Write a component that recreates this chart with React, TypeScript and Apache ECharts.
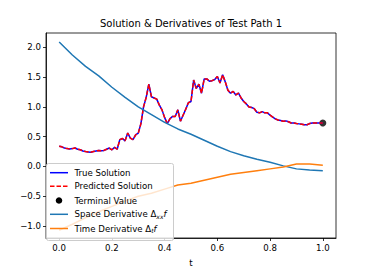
import React, { useEffect, useRef } from "react";
import * as echarts from "echarts";

const TITLE = "Solution & Derivatives of Test Path 1";
const X_TICKS = [0, 0.2, 0.4, 0.6, 0.8, 1.0];
const Y_TICKS = [-1.0, -0.5, 0.0, 0.5, 1.0, 1.5, 2.0];

// solution sampled every 0.01 in t
const T_SOL = Array.from({ length: 101 }, (_, i) => i / 100);
const TRUE_SOL = [
  0.34, 0.33, 0.31, 0.30, 0.295, 0.30, 0.31, 0.29, 0.28, 0.26,
  0.25, 0.245, 0.24, 0.25, 0.26, 0.27, 0.265, 0.27, 0.29, 0.31,
  0.28, 0.32, 0.29, 0.45, 0.47, 0.43, 0.56, 0.475, 0.45, 0.53,
  0.56, 0.72, 1.00, 1.16, 1.38, 1.17, 1.15, 1.13, 1.03, 0.95,
  0.82, 0.72, 0.80, 0.84, 0.84, 0.95, 0.76, 0.86, 0.96, 1.07,
  1.09, 1.45, 1.31, 1.38, 1.23, 1.47, 1.47, 1.43, 1.44, 1.46,
  1.51, 1.40, 1.54, 1.42, 1.28, 1.23, 1.26, 1.20, 1.23, 1.15,
  1.09, 1.05, 1.00, 0.99, 0.97, 0.91, 0.90, 0.92, 0.90, 0.90,
  0.86, 0.83, 0.80, 0.78, 0.77, 0.76, 0.765, 0.75, 0.73, 0.73,
  0.72, 0.715, 0.71, 0.70, 0.70, 0.72, 0.73, 0.73, 0.73, 0.73,
  0.73,
];
const PRED_SOL = TRUE_SOL;
const TERMINAL = [1.0, 0.73];

// derivatives sampled every 0.05 in t
const T_DER = [0, 0.05, 0.1, 0.15, 0.2, 0.25, 0.3, 0.35, 0.4, 0.45, 0.5, 0.55, 0.6, 0.65, 0.7, 0.75, 0.8, 0.85, 0.9, 0.95, 1.0];
const SPACE_DER = [2.09, 1.87, 1.68, 1.52, 1.33, 1.16, 1.0, 0.87, 0.74, 0.63, 0.54, 0.44, 0.34, 0.25, 0.18, 0.12, 0.07, 0.01, -0.04, -0.06, -0.07];
const TIME_DER = [-1.07, -0.97, -0.86, -0.76, -0.67, -0.58, -0.5, -0.45, -0.38, -0.31, -0.28, -0.23, -0.18, -0.13, -0.1, -0.07, -0.04, -0.01, 0.04, 0.04, 0.02];

const FONT = "DejaVu Sans";
const FS = 8.6;
const fmt = (v: number) => (v < 0 ? "\u2212" + Math.abs(v).toFixed(1) : v.toFixed(1));

export default function App() {
  const ref = useRef<HTMLDivElement>(null);
  useEffect(() => {
    document.body.style.margin = "0";
    const chart = echarts.init(ref.current!, null, { renderer: "svg" });
    const legendRows = [
      { y: 172.7, kind: "line", color: "#0000ff", dash: null, text: "{n|True Solution}" },
      { y: 186.3, kind: "line", color: "#ff0000", dash: [4.5, 2], text: "{n|Predicted Solution}" },
      { y: 200.5, kind: "dot", color: "#000", dash: null, text: "{n|Terminal Value}" },
      { y: 214.3, kind: "line", color: "#1f77b4", dash: null, text: "{n|Space Derivative Δ}{s|xx}{i|f}" },
      { y: 228.5, kind: "line", color: "#ff7f0e", dash: null, text: "{n|Time Derivative Δ}{s|t}{i|f}" },
    ];
    const graphics: any[] = [
      {
        type: "rect",
        z: 100,
        shape: { x: 46.5, y: 163.5, width: 127, height: 77, r: 2 },
        style: { fill: "rgba(255,255,255,0.8)", stroke: "#cccccc", lineWidth: 1 },
      },
    ];
    legendRows.forEach((r) => {
      if (r.kind === "line") {
        graphics.push({
          type: "line",
          z: 101,
          shape: { x1: 50, y1: r.y, x2: 68, y2: r.y },
          style: { stroke: r.color, lineWidth: 1.5, lineDash: r.dash || undefined },
        });
      } else {
        graphics.push({
          type: "circle",
          z: 101,
          shape: { cx: 59, cy: r.y, r: 3.3 },
          style: { fill: r.color },
        });
      }
      graphics.push({
        type: "text",
        z: 101,
        x: 74.5,
        y: r.y,
        style: {
          text: r.text,
          verticalAlign: "middle",
          fill: "#000",
          rich: {
            n: { fontFamily: FONT, fontSize: FS, fill: "#000", lineHeight: 10 } as any,
            s: { fontFamily: FONT, fontSize: 6, fontStyle: "italic", fill: "#000", padding: [4, 0, 0, 0], lineHeight: 10 } as any,
            i: { fontFamily: FONT, fontSize: FS, fontStyle: "italic", fill: "#000", lineHeight: 10 } as any,
          },
        },
      });
    });

    const lineBase = { type: "line", showSymbol: false, symbol: "none", silent: true };
    chart.setOption({
      animation: false,
      title: {
        text: TITLE,
        left: 191,
        top: 18,
        textAlign: "center",
        padding: 0,
        textStyle: { fontFamily: FONT, fontSize: 10, fontWeight: "normal", color: "#000" },
      },
      grid: { left: 46, right: 38, top: 33, bottom: 35, show: true, borderColor: "#000", borderWidth: 0.8, backgroundColor: "#fff" },
      xAxis: {
        type: "value",
        min: -0.05,
        max: 1.05,
        name: "t",
        nameLocation: "middle",
        nameGap: 20,
        nameTextStyle: { fontFamily: FONT, fontSize: FS, color: "#000" },
        axisLine: { show: true, onZero: false, lineStyle: { color: "#000", width: 0.8 } },
        axisTick: { show: true, length: 3, customValues: X_TICKS, lineStyle: { color: "#000", width: 0.8 } },
        axisLabel: { customValues: X_TICKS, formatter: fmt, margin: 5, fontFamily: FONT, fontSize: FS, color: "#000" },
        splitLine: { show: false },
      },
      yAxis: {
        type: "value",
        min: -1.2,
        max: 2.24,
        axisLine: { show: true, onZero: false, lineStyle: { color: "#000", width: 0.8 } },
        axisTick: { show: true, length: 3, customValues: Y_TICKS, lineStyle: { color: "#000", width: 0.8 } },
        axisLabel: { customValues: Y_TICKS, formatter: fmt, margin: 5, fontFamily: FONT, fontSize: FS, color: "#000" },
        splitLine: { show: false },
      },
      series: [
        { ...lineBase, name: "True Solution", data: T_SOL.map((t, i) => [t, TRUE_SOL[i]]), lineStyle: { color: "#0000ff", width: 1.5 } },
        { ...lineBase, name: "Predicted Solution", data: T_SOL.map((t, i) => [t, PRED_SOL[i]]), lineStyle: { color: "#ff0000", width: 1.5, type: [4.5, 2] } },
        { type: "scatter", name: "Terminal Value", data: [TERMINAL], symbolSize: 7, itemStyle: { color: "#000" }, silent: true },
        { ...lineBase, name: "Space Derivative", data: T_DER.map((t, i) => [t, SPACE_DER[i]]), lineStyle: { color: "#1f77b4", width: 1.5 } },
        { ...lineBase, name: "Time Derivative", data: T_DER.map((t, i) => [t, TIME_DER[i]]), lineStyle: { color: "#ff7f0e", width: 1.5 } },
      ],
      graphic: graphics,
    });
    return () => chart.dispose();
  }, []);
  return <div ref={ref} style={{ width: 374, height: 273 }} />;
}
